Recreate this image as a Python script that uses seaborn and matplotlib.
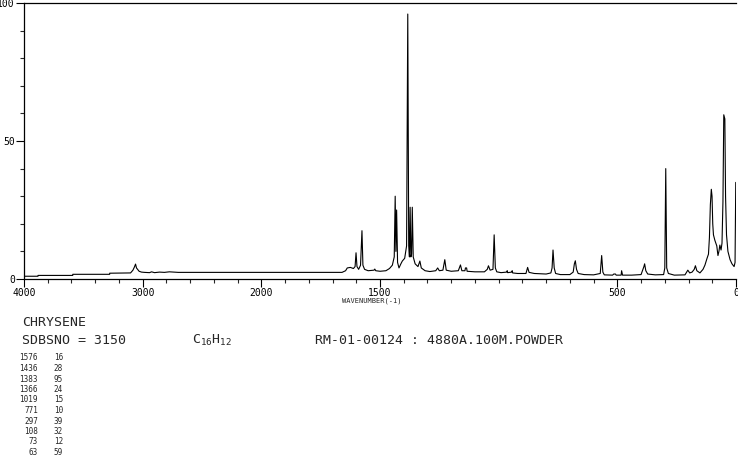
import numpy as np
import matplotlib
matplotlib.use('Agg')
import matplotlib.pyplot as plt
from matplotlib.ticker import FixedLocator, NullFormatter
import seaborn as sns

# ---------------------------------------------------------
# data (wavenumber cm-1 / intensity)
# ---------------------------------------------------------

wavenumber = [
    4000, 3882, 3882, 3589, 3589, 3278, 3278, 3102, 3082, 3070, 3060, 3052,
    3045, 3030, 3010, 2985, 2942, 2925, 2900, 2858, 2817, 2775, 2700, 1660,
    1645, 1638, 1625, 1612, 1605, 1601, 1597, 1590, 1582, 1579, 1576, 1572,
    1565, 1550, 1525, 1522, 1518, 1500, 1475, 1460, 1448, 1440, 1436, 1433,
    1430, 1426, 1420, 1412, 1406, 1396, 1388, 1383, 1379, 1376, 1373, 1370,
    1367, 1364, 1360, 1352, 1340, 1332, 1326, 1310, 1290, 1265, 1257, 1250,
    1235, 1227, 1221, 1200, 1170, 1161, 1155, 1142, 1140, 1135, 1133, 1100,
    1060, 1048, 1043, 1036, 1024, 1019, 1014, 1008, 990, 966, 964, 962, 945,
    943, 941, 920, 885, 878, 872, 850, 800, 780, 775, 771, 766, 760, 740, 700,
    686, 681, 677, 672, 665, 640, 600, 572, 566, 561, 555, 520, 515, 508, 505,
    484, 482, 478, 440, 400, 392, 388, 385, 380, 372, 340, 305, 300, 296, 292,
    285, 260, 215, 208, 203, 195, 185, 176, 171, 165, 152, 139, 131, 122, 116,
    112, 108, 104, 101, 98, 95, 89, 81, 76, 72, 68, 63, 59, 55, 51.5, 47, 44,
    40, 34, 25, 17, 8, 4, 1,
]

intensity = [
    1.0, 1.0, 1.3, 1.3, 1.7, 1.7, 2.1, 2.2, 3.2, 4.3, 5.4, 4.0,
    3.6, 2.8, 2.5, 2.4, 2.3, 2.6, 2.3, 2.5, 2.4, 2.6, 2.4, 2.4,
    3.0, 4.0, 4.2, 3.8, 4.5, 9.5, 4.5, 3.5, 5.0, 11.5, 17.5, 5.0,
    3.5, 3.0, 3.2, 3.6, 3.0, 2.8, 3.0, 3.8, 5.0, 8.0, 30.0, 10.0,
    25.0, 6.0, 4.0, 5.5, 6.5, 7.5, 12.0, 96.0, 12.0, 8.0, 26.0, 8.0,
    9.0, 26.0, 8.0, 5.5, 4.5, 6.5, 4.0, 3.0, 2.7, 3.0, 4.0, 3.0,
    3.2, 7.0, 3.2, 2.8, 3.0, 5.1, 3.0, 3.0, 4.0, 4.0, 2.8, 2.6,
    2.6, 3.5, 4.8, 3.2, 3.5, 16.0, 4.0, 2.6, 2.3, 2.5, 3.0, 2.3, 2.5,
    3.0, 2.2, 2.0, 2.0, 4.2, 2.4, 2.0, 1.8, 2.2, 4.0, 10.5, 4.0, 2.0, 1.6, 1.6,
    2.5, 5.5, 6.6, 3.5, 2.0, 1.6, 1.5, 2.0, 8.5, 2.5, 1.5, 1.4, 1.8, 1.8, 1.4,
    1.4, 3.0, 1.4, 1.4, 1.6, 3.5, 4.5, 5.5, 3.0, 1.8, 1.5, 1.6, 4.0, 40.0, 4.0,
    2.0, 1.4, 1.5, 2.5, 3.2, 2.2, 2.5, 3.5, 4.8, 3.0, 2.2, 3.5, 5.0, 7.5, 9.0,
    15.0, 27.0, 32.5, 30.0, 20.0, 16.0, 14.0, 12.0, 8.5, 10.0, 12.3, 10.5, 13.0, 28.0, 59.5, 58.0, 30.0,
    16.0, 10.0, 7.0, 5.5, 4.5, 6.0, 35.0,
]

peak_wn = [1576, 1436, 1383, 1366, 1019, 771, 297, 108, 73, 63]
peak_int = [16, 28, 95, 24, 15, 10, 39, 32, 12, 59]

x_major = [4000, 3000, 2000, 1500, 500, 0]
x_labels = ['4000', '3000', '2000', '1500', '500', '0']
x_minor = list(range(3800, 2000, -200)) + [v for v in range(1900, 0, -100) if v not in (1500, 500)]
y_major = [0, 50, 100]
y_minor = [10, 20, 30, 40, 60, 70, 80, 90]

# ---------------------------------------------------------
# style
# ---------------------------------------------------------

sns.set_style('ticks')
plt.rcParams['font.family'] = ['DejaVu Sans Mono']
plt.rcParams['mathtext.default'] = 'regular'


# axis compressed by 2 above 2000 cm-1
def fwd(x):
    x = np.asarray(x, dtype=float)
    return np.where(x > 2000, 2000 + (x - 2000) / 2, x)


def inv(u):
    u = np.asarray(u, dtype=float)
    return np.where(u > 2000, 2000 + (u - 2000) * 2, u)


fig = plt.figure(figsize=(7.38, 4.57), dpi=100)
ax = fig.add_axes([24 / 738, 1 - 279 / 457, 712 / 738, 276 / 457])

sns.lineplot(
    x=wavenumber,
    y=intensity,
    ax=ax,
    color='black',
    linewidth=0.8,
    sort=False,
    estimator=None
)

ax.set_xscale('function', functions=(fwd, inv))
ax.set_xlim(4000, 0)
ax.set_ylim(0, 100)

ax.xaxis.set_major_locator(FixedLocator(x_major))
ax.set_xticklabels(x_labels)
ax.xaxis.set_minor_locator(FixedLocator(x_minor))
ax.xaxis.set_minor_formatter(NullFormatter())
ax.yaxis.set_major_locator(FixedLocator(y_major))
ax.set_yticklabels([str(v) for v in y_major])
ax.yaxis.set_minor_locator(FixedLocator(y_minor))
ax.yaxis.set_minor_formatter(NullFormatter())

ax.spines['right'].set_visible(False)
for s in ['top', 'left', 'bottom']:
    ax.spines[s].set_linewidth(0.9)
    ax.spines[s].set_color('black')

ax.tick_params(which='major', direction='out', length=5.5, width=0.8,
               labelsize=7, pad=1, colors='black')
ax.tick_params(which='minor', direction='out', length=3, width=0.8)
ax.set_xlabel('')
ax.set_ylabel('')

fig.text(372 / 738, 1 - 301 / 457, 'WAVENUMBER(-1)', fontsize=5,
         ha='center', va='center')

# ---------------------------------------------------------
# header and peak table
# ---------------------------------------------------------

fig.text(22 / 738, 1 - 323 / 457, 'CHRYSENE', fontsize=9.5, va='center')
fig.text(22 / 738, 1 - 340 / 457, 'SDBSNO = 3150', fontsize=9.5, va='center')
fig.text(192 / 738, 1 - 340 / 457, 'C$_{16}$H$_{12}$', fontsize=9.5, va='center')
fig.text(315 / 738, 1 - 340 / 457, 'RM-01-00124 : 4880A.100M.POWDER',
         fontsize=9.5, va='center')

for i in range(len(peak_wn)):
    yy = 1 - (358 + 10.5 * i) / 457
    fig.text(38 / 738, yy, str(peak_wn[i]), fontsize=5.5, ha='right', va='center')
    fig.text(63 / 738, yy, str(peak_int[i]), fontsize=5.5, ha='right', va='center')

fig.savefig('out.png', dpi=100)
